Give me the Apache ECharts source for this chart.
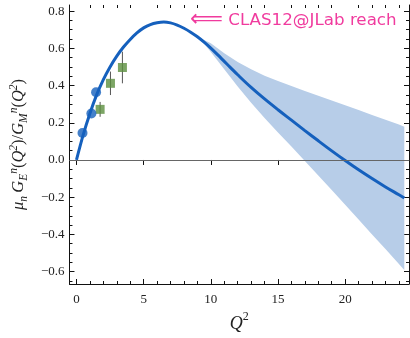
<!DOCTYPE html>
<html>
<head>
<meta charset="utf-8">
<script src="https://cdn.jsdelivr.net/npm/echarts@6/dist/echarts.min.js"></script>
<style>html,body{margin:0;padding:0;background:#fff}#c{width:410px;height:338px}</style>
</head>
<body>
<div id="c"></div>
<script>
// ---- data ----
const curveX = [0,0.5,1,1.5,2,2.5,3,3.5,4,4.5,5,5.5,6,6.5,7,7.5,8,8.5,9,9.5,10,10.5,11,11.5,12,13,14,15,16,17,18,19,20,21,22,23,24,24.4];
const curveY = [0,0.135,0.25,0.35,0.432,0.5,0.558,0.607,0.648,0.683,0.71,0.728,0.738,0.742,0.737,0.725,0.708,0.687,0.662,0.633,0.601,0.566,0.53,0.494,0.458,0.39,0.328,0.27,0.214,0.158,0.103,0.049,-0.003,-0.053,-0.1,-0.145,-0.187,-0.204];
const bandX  = [8.8,9.5,10,11,12,13,14,15,16,17,18,19,20,21,22,23,24,24.4];
const bandHi = [0.67,0.645,0.627,0.574,0.527,0.487,0.453,0.424,0.397,0.371,0.345,0.32,0.294,0.268,0.242,0.216,0.19,0.179];
const bandLo = [0.67,0.625,0.58,0.487,0.395,0.308,0.226,0.148,0.072,-0.005,-0.083,-0.162,-0.241,-0.32,-0.4,-0.479,-0.559,-0.591];
const circX = [0.45,1.11,1.46];
const circY = [0.145,0.25,0.364];
const sqX   = [1.76,2.53,3.42];
const sqY   = [0.272,0.412,0.497];
const sqErr = [0.04,0.063,0.085];
const xTicks = [0,5,10,15,20];
const xMinor = [1,2,3,4,6,7,8,9,11,12,13,14,16,17,18,19,21,22,23,24];
const yTicks = [-0.6,-0.4,-0.2,0,0.2,0.4,0.6,0.8];
const yMinor = [-0.65,-0.55,-0.5,-0.45,-0.35,-0.3,-0.25,-0.15,-0.1,-0.05,0.05,0.1,0.15,0.25,0.3,0.35,0.45,0.5,0.55,0.65,0.7,0.75];
const annotArrow = '\u27F8';
const annotText = 'CLAS12@JLab reach';
const annotPos = [8.45, 0.75];
const xMin = -0.52, xMax = 24.75, yMin = -2/3, yMax = 0.833;

// ---- chart ----
const serif = 'Liberation Serif';
const lineColor = '#1560bd';
function fmtY(v){ const s = Math.abs(v).toFixed(1); return v < -1e-9 ? '\u2212' + s : s; }

function mkX(pos, vals, len, showLine, labels, extra){
  return Object.assign({
    type:'value', min:xMin, max:xMax, position:pos,
    axisLine:{show:showLine, onZero:false, lineStyle:{color:'#111', width:1}},
    axisTick:{show:true, inside:true, length:len, customValues:vals, lineStyle:{color:'#111', width:1}},
    axisLabel:{show:labels, customValues:vals, margin:9, color:'#222', fontFamily:serif, fontSize:13},
    splitLine:{show:false}
  }, extra||{});
}
function mkY(pos, vals, len, showLine, labels, extra){
  return Object.assign({
    type:'value', min:yMin, max:yMax, position:pos,
    axisLine:{show:showLine, onZero:false, lineStyle:{color:'#111', width:1}},
    axisTick:{show:true, inside:true, length:len, customValues:vals, lineStyle:{color:'#111', width:1}},
    axisLabel:{show:labels, customValues:vals, margin:5, color:'#222', fontFamily:serif, fontSize:13, formatter:fmtY},
    splitLine:{show:false}
  }, extra||{});
}

const chart = echarts.init(document.getElementById('c'), null, {renderer:'canvas'});
chart.setOption({
  animation:false,
  backgroundColor:'#fff',
  grid:{left:68, top:5, right:1, bottom:54, containLabel:false},
  xAxis:[
    mkX('bottom', xTicks, 5, true, true, {
      name:'{i|Q}{sup|2}', nameLocation:'middle', nameGap:24,
      nameTextStyle:{rich:{
        i:{fontFamily:serif, fontStyle:'italic', fontSize:18, color:'#222', lineHeight:22, verticalAlign:'bottom'},
        sup:{fontFamily:serif, fontSize:12, color:'#222', lineHeight:22, verticalAlign:'top'}
      }}
    }),
    mkX('bottom', xMinor, 3, false, false),
    mkX('top', xTicks, 5, true, false, {axisLine:{show:true, lineStyle:{color:'#555', width:1}}}),
    mkX('top', xMinor, 3, false, false)
  ],
  yAxis:[
    mkY('left', yTicks, 5, true, true, {
      name:'{i|\u03BC}{sub|n} {i|G}{sub|E}{sup|n}{r|(}{i|Q}{sup|2}{r|)/}{i|G}{sub|M}{sup|n}{r|(}{i|Q}{sup|2}{r|)}',
      nameLocation:'middle', nameGap:29, nameRotate:90,
      nameTextStyle:{rich:{
        i:{fontFamily:serif, fontStyle:'italic', fontSize:16.5, color:'#222', lineHeight:22},
        r:{fontFamily:serif, fontSize:16.5, color:'#222', lineHeight:22},
        sub:{fontFamily:serif, fontStyle:'italic', fontSize:11.5, color:'#222', lineHeight:22, verticalAlign:'bottom'},
        sup:{fontFamily:serif, fontStyle:'italic', fontSize:11.5, color:'#222', lineHeight:22, verticalAlign:'top'}
      }}
    }),
    mkY('left', yMinor, 3, false, false),
    mkY('right', yTicks, 5, true, false),
    mkY('right', yMinor, 3, false, false)
  ],
  series:[
    {
      type:'custom', name:'band', z:1, silent:true,
      data:[[bandX[0], bandHi[0]]],
      renderItem:function(params, api){
        if (params.dataIndex !== 0) return null;
        const pts = [];
        for (let i = 0; i < bandX.length; i++) pts.push(api.coord([bandX[i], bandHi[i]]));
        for (let i = bandX.length - 1; i >= 0; i--) pts.push(api.coord([bandX[i], bandLo[i]]));
        return {type:'polygon', shape:{points:pts, smooth:0}, style:{fill:'#b7cde8', stroke:null}};
      },
      markLine:{silent:true, symbol:['none','none'], label:{show:false},
        lineStyle:{color:'#666', width:1, type:'solid'}, data:[{yAxis:0}]}
    },
    {
      type:'line', name:'curve', z:3, silent:true, smooth:0.35, showSymbol:false, symbol:'none',
      data:curveX.map((x,i)=>[x, curveY[i]]),
      lineStyle:{color:lineColor, width:3}
    },
    {
      type:'custom', name:'errors', z:4, silent:true,
      data:sqX.map((x,i)=>[x, sqY[i]-sqErr[i], sqY[i]+sqErr[i]]),
      renderItem:function(params, api){
        const a = api.coord([api.value(0), api.value(1)]);
        const b = api.coord([api.value(0), api.value(2)]);
        return {type:'line', shape:{x1:a[0], y1:a[1], x2:b[0], y2:b[1]}, style:{stroke:'#555', lineWidth:1}};
      }
    },
    {
      type:'scatter', name:'squares', z:5, silent:true, symbol:'rect', symbolSize:9,
      data:sqX.map((x,i)=>[x, sqY[i]]),
      itemStyle:{color:'#5b8e3e'}
    },
    {
      type:'scatter', name:'circles', z:5, silent:true, symbol:'circle', symbolSize:10,
      data:circX.map((x,i)=>[x, circY[i]]),
      itemStyle:{color:lineColor}
    },
    {
      type:'scatter', name:'annot', z:6, silent:true, symbolSize:0,
      data:[annotPos],
      label:{show:true, position:'right', distance:0,
        formatter:'{a|' + annotArrow + '}{t| ' + annotText + '}',
        rich:{
          a:{color:'#ec0a86', fontFamily:'DejaVu Sans', fontSize:23, lineHeight:24},
          t:{color:'#ec0a86', fontFamily:'DejaVu Sans', fontSize:16.7, lineHeight:24}
        }}
    }
  ]
});
</script>
</body>
</html>
